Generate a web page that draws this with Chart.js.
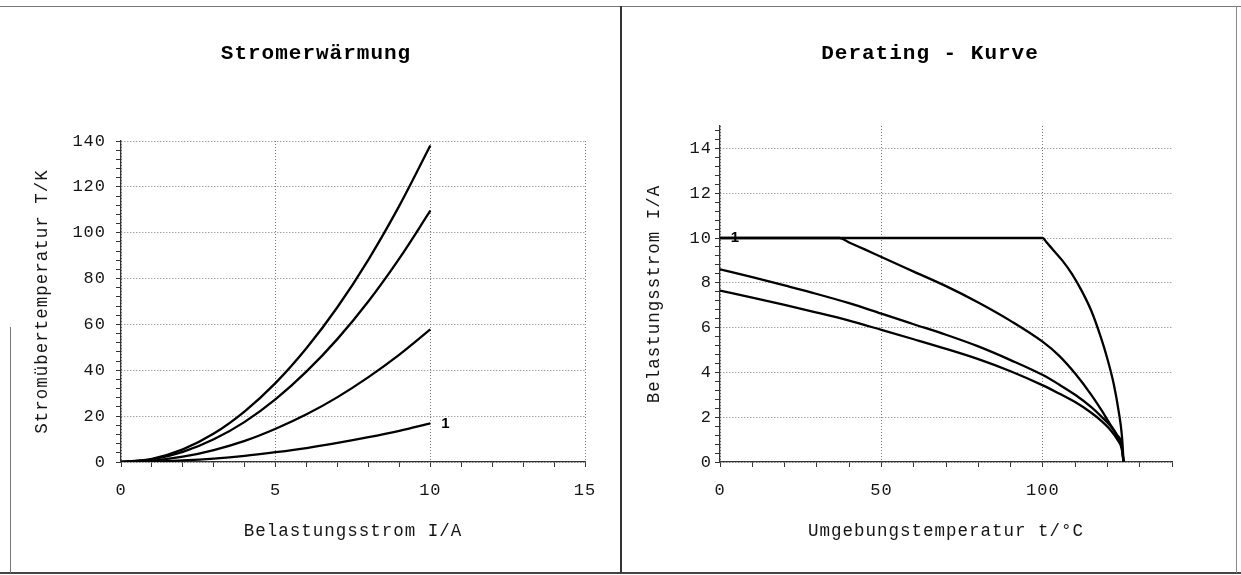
<!DOCTYPE html>
<html>
<head>
<meta charset="utf-8">
<script src="https://cdn.jsdelivr.net/npm/chart.js@4/dist/chart.umd.min.js"></script>
<style>
  html, body { margin: 0; padding: 0; background: #fff; }
  body { width: 1241px; height: 575px; position: relative; overflow: hidden; }
  canvas { position: absolute; top: 0; }
  #c1 { left: 10px; }
  #c2 { left: 622px; }
  .ln { position: absolute; }
</style>
</head>
<body>
<div class="ln" style="left:0;top:6px;width:1241px;height:1px;background:#777"></div>
<div class="ln" style="left:0;top:572px;width:1241px;height:2px;background:#444"></div>
<div class="ln" style="left:620px;top:6px;width:2px;height:567px;background:#333"></div>
<div class="ln" style="left:1236px;top:6px;width:1px;height:567px;background:#888"></div>
<div class="ln" style="left:10px;top:327px;width:1px;height:246px;background:#777"></div>
<canvas id="c1" width="611" height="575"></canvas>
<canvas id="c2" width="615" height="575"></canvas>
<script>
// ---------- Data: Stromerwärmung ----------
const stromI  = [0, 1, 2, 3, 4, 5, 6, 7, 8, 9, 10];
const stromT4 = [0, 1.4, 5.5, 12.4, 22.1, 34.5, 49.7, 67.6, 88.3, 111.8, 138];
const stromT3 = [0, 1.1, 4.4, 9.9, 17.5, 27.4, 39.5, 53.7, 70.1, 88.8, 109.6];
const stromT2 = [0, 0.6, 2.3, 5.2, 9.2, 14.5, 20.8, 28.3, 37.0, 46.8, 57.8];
const stromT1 = [0, 0.17, 0.68, 1.5, 2.7, 4.3, 6.1, 8.3, 10.8, 13.6, 16.8];
const stromXTicks = [0, 5, 10, 15];
const stromYTicks = [0, 20, 40, 60, 80, 100, 120, 140];

// ---------- Data: Derating - Kurve ----------
const derT1 = [0, 100, 101, 103, 106, 109, 112, 115, 118, 120, 122, 123.5, 124.5, 125];
const derI1 = [10, 10, 9.83, 9.5, 9.0, 8.4, 7.65, 6.75, 5.55, 4.6, 3.45, 2.25, 1.15, 0];
const derT2 = [0, 37, 40, 45, 50, 60, 70, 80, 90, 100, 105, 110, 115, 118, 121, 123, 124.4, 125];
const derI2 = [10, 10, 9.8, 9.48, 9.15, 8.5, 7.85, 7.12, 6.3, 5.36, 4.75, 3.95, 3.0, 2.35, 1.65, 1.2, 0.8, 0];
const derT3 = [0, 10, 20, 30, 40, 50, 60, 70, 80, 90, 100, 105, 110, 115, 118, 121, 123, 124.4, 125];
const derI3 = [8.6, 8.25, 7.88, 7.5, 7.09, 6.62, 6.15, 5.68, 5.16, 4.55, 3.88, 3.46, 3.0, 2.45, 2.05, 1.6, 1.15, 0.7, 0];
const derT4 = [0, 10, 20, 30, 40, 50, 60, 70, 80, 90, 100, 105, 110, 115, 118, 121, 123, 124.4, 125];
const derI4 = [7.65, 7.34, 7.01, 6.67, 6.31, 5.9, 5.48, 5.05, 4.59, 4.05, 3.42, 3.06, 2.68, 2.2, 1.85, 1.42, 1.02, 0.6, 0];
const derXTicks = [0, 50, 100];
const derYTicks = [0, 2, 4, 6, 8, 10, 12, 14];

// ---------- helpers ----------
const MONO = "'Liberation Mono', 'Courier New', monospace";
const INK = '#151515';
Chart.defaults.font.family = MONO;
Chart.defaults.color = INK;

// slightly wider letter spacing, like the typewriter face of the original
Chart.register({
  id: 'spacing',
  beforeLayout(c) { c.ctx.letterSpacing = '1px'; },
  beforeDraw(c) { c.ctx.letterSpacing = '1px'; }
});

// panel title, centred on the whole panel (canvas) width
const panelTitle = {
  id: 'panelTitle',
  afterDraw(chart, args, opts) {
    const ctx = chart.ctx;
    ctx.save();
    ctx.letterSpacing = '1px';
    ctx.font = "bold 21px " + MONO;
    ctx.fillStyle = '#000';
    ctx.textAlign = 'center';
    ctx.textBaseline = 'middle';
    ctx.fillText(opts.text, chart.width / 2 + 0.5, opts.y);
    ctx.restore();
  }
};

function pts(xs, ys) { return xs.map((x, i) => ({ x: x, y: ys[i] })); }
function isMajor(list, v) { return list.some(t => Math.abs(t - v) < 1e-6); }
function curve(xs, ys) {
  return {
    data: pts(xs, ys), borderColor: '#000', borderWidth: 2.3, pointRadius: 0,
    fill: false, tension: 0.4, cubicInterpolationMode: 'monotone'
  };
}
function axis(min, max, step, majors, pad, extra) {
  return Object.assign({
    type: 'linear', min: min, max: max,
    ticks: {
      stepSize: step, autoSkip: false, maxRotation: 0, includeBounds: false, padding: pad,
      font: { family: MONO, size: 17 }, color: INK,
      callback: (v) => isMajor(majors, v) ? String(Math.round(v)) : ''
    },
    grid: {
      color: (c) => (c.tick && isMajor(majors, c.tick.value)) ? '#7a7a7a' : 'rgba(0,0,0,0)',
      lineWidth: 1, tickLength: 5, tickColor: '#333', tickWidth: 1
    },
    border: { color: '#333', width: 1.3, dash: [1, 2] }
  }, extra);
}
function axisTitle(text, pad) {
  return { display: true, text: text, color: INK, font: { family: MONO, size: 17.5 }, padding: pad };
}
function labelPlugin(dsIndex, pointIndex, dx) {
  return {
    id: 'lbl' + dsIndex,
    afterDatasetsDraw(chart) {
      const meta = chart.getDatasetMeta(dsIndex);
      const idx = pointIndex < 0 ? meta.data.length - 1 : pointIndex;
      const p = meta.data[idx];
      const ctx = chart.ctx;
      ctx.save();
      ctx.letterSpacing = '0px';
      ctx.font = "bold 15px 'Liberation Sans', Arial, sans-serif";
      ctx.fillStyle = '#000';
      ctx.textAlign = 'center';
      ctx.textBaseline = 'middle';
      ctx.fillText('1', p.x + dx, p.y);
      ctx.restore();
    }
  };
}

// ---------- Chart 1: Stromerwärmung ----------
new Chart(document.getElementById('c1'), {
  type: 'line',
  data: {
    datasets: [
      curve(stromI, stromT4),
      curve(stromI, stromT3),
      curve(stromI, stromT2),
      curve(stromI, stromT1)
    ]
  },
  options: {
    responsive: false, animation: false, devicePixelRatio: 1,
    layout: { padding: { left: 0, right: 36, top: 141, bottom: 0 } },
    plugins: {
      legend: { display: false }, tooltip: { enabled: false }, title: { display: false },
      panelTitle: { text: 'Stromerwärmung', y: 54 }
    },
    scales: {
      x: axis(0, 15, 1, stromXTicks, 13, {
        position: 'bottom',
        title: axisTitle('Belastungsstrom I/A', { top: 0, bottom: 33 }),
        afterFit: (s) => { s.height = 113; }
      }),
      y: axis(0, 140, 4, stromYTicks, 10, {
        position: 'left',
        title: axisTitle('Stromübertemperatur T/K', { top: 22, bottom: 0 }),
        afterFit: (s) => { s.width = 111; }
      })
    }
  },
  plugins: [panelTitle, labelPlugin(3, -1, 15)]
});

// ---------- Chart 2: Derating - Kurve ----------
new Chart(document.getElementById('c2'), {
  type: 'line',
  data: {
    datasets: [
      curve(derT1, derI1),
      curve(derT2, derI2),
      curve(derT3, derI3),
      curve(derT4, derI4)
    ]
  },
  options: {
    responsive: false, animation: false, devicePixelRatio: 1,
    layout: { padding: { left: 0, right: 65, top: 126, bottom: 0 } },
    plugins: {
      legend: { display: false }, tooltip: { enabled: false }, title: { display: false },
      panelTitle: { text: 'Derating - Kurve', y: 54 }
    },
    scales: {
      x: axis(0, 140, 10, derXTicks, 13, {
        position: 'bottom',
        title: axisTitle('Umgebungstemperatur t/°C', { top: 0, bottom: 33 }),
        afterFit: (s) => { s.height = 113; }
      }),
      y: axis(0, 15, 0.4, derYTicks, 3, {
        position: 'left',
        title: axisTitle('Belastungsstrom I/A', { top: 22, bottom: 0 }),
        afterFit: (s) => { s.width = 98; }
      })
    }
  },
  plugins: [panelTitle, labelPlugin(0, 0, 15)]
});
</script>
</body>
</html>
